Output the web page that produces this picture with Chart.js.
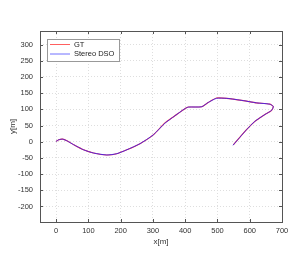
<!DOCTYPE html>
<html>
<head>
<meta charset="utf-8">
<script src="https://cdn.jsdelivr.net/npm/chart.js@4"></script>
<style>
  html, body { margin: 0; padding: 0; background: #fff; }
  #wrap { width: 305px; height: 273px; }
</style>
</head>
<body>
<div id="wrap"><canvas id="traj"></canvas></div>
<script>
// trajectory, metres
const gtX = [0, 8, 20, 35, 54, 85, 116, 157, 188, 219, 260, 301, 337, 368, 399, 410, 451, 471, 497, 528, 580, 621, 662, 673, 668, 647, 616, 590, 549];
const gtY = [1, 6, 8, 2, -9, -25, -35, -41, -37, -25, -6, 21, 58, 80, 102, 107, 108, 121, 135, 134, 127, 120, 116, 109, 97, 84, 63, 37, -10];
const dsoX = [0, 8, 20, 35, 54, 85, 116, 157, 188, 219, 260, 301, 337, 368, 399, 410, 451, 471, 497, 528, 580, 621, 662, 673, 668, 647, 616, 590, 548];
const dsoY = [1, 6, 8, 2, -9, -25, -35, -41, -37, -25, -6, 21, 57, 80, 102, 107, 108, 121, 134, 134, 127, 120, 116, 109, 97, 84, 63, 37, -11];

const xTicks = [0, 100, 200, 300, 400, 500, 600, 700];
const yTicks = [-200, -150, -100, -50, 0, 50, 100, 150, 200, 250, 300];

const toPoints = (xs, ys) => xs.map((x, i) => ({ x: x, y: ys[i] }));

const font = { family: 'Liberation Sans, Arial, sans-serif', size: 7.5 };

// box, inner ticks and legend the way the reference draws them
const framePlugin = {
    id: 'frame',
    afterDraw(chart) {
        const ctx = chart.ctx;
        const a = chart.chartArea;
        const xs = chart.scales.x, ys = chart.scales.y;
        ctx.save();
        ctx.strokeStyle = '#555';
        ctx.lineWidth = 1;
        ctx.strokeRect(Math.round(a.left) + 0.5, Math.round(a.top) + 0.5, Math.round(a.right - a.left), Math.round(a.bottom - a.top));
        ctx.beginPath();
        xTicks.forEach(v => {
            const p = Math.round(xs.getPixelForValue(v)) + 0.5;
            ctx.moveTo(p, a.bottom); ctx.lineTo(p, a.bottom - 3);
            ctx.moveTo(p, a.top); ctx.lineTo(p, a.top + 3);
        });
        yTicks.forEach(v => {
            const p = Math.round(ys.getPixelForValue(v)) + 0.5;
            ctx.moveTo(a.left, p); ctx.lineTo(a.left + 3, p);
            ctx.moveTo(a.right, p); ctx.lineTo(a.right - 3, p);
        });
        ctx.stroke();

        // legend
        const bx = 47.5, by = 39.5, bw = 72, bh = 22;
        ctx.fillStyle = '#fff';
        ctx.fillRect(bx, by, bw, bh);
        ctx.strokeStyle = '#999';
        ctx.strokeRect(bx, by, bw, bh);
        ctx.font = '7.5px Liberation Sans, Arial, sans-serif';
        ctx.textBaseline = 'middle';
        chart.data.datasets.forEach((ds, i) => {
            const yy = 44.5 + i * 9.5;
            ctx.strokeStyle = ds.legendColor;
            ctx.beginPath();
            ctx.moveTo(50, yy); ctx.lineTo(70, yy);
            ctx.stroke();
            ctx.fillStyle = '#222';
            ctx.fillText(ds.label, 74, yy);
        });
        ctx.restore();
    }
};

new Chart(document.getElementById('traj').getContext('2d'), {
    type: 'scatter',
    data: {
        datasets: [
            {
                label: 'GT',
                data: toPoints(gtX, gtY),
                showLine: true,
                borderColor: '#ff4040',
                legendColor: '#ff6060',
                borderWidth: 1.1,
                pointRadius: 0,
                tension: 0.2,
                order: 2
            },
            {
                label: 'Stereo DSO',
                data: toPoints(dsoX, dsoY),
                showLine: true,
                borderColor: 'rgba(55, 30, 240, 0.88)',
                legendColor: '#7070ff',
                borderWidth: 1,
                pointRadius: 0,
                tension: 0.2,
                order: 1
            }
        ]
    },
    options: {
        responsive: true,
        maintainAspectRatio: false,
        animation: false,
        layout: { padding: { top: 31, right: 23, left: 8, bottom: 26 } },
        plugins: {
            legend: { display: false },
            tooltip: { enabled: false }
        },
        scales: {
            x: {
                type: 'linear',
                min: -50,
                max: 700,
                afterBuildTicks: s => { s.ticks = xTicks.map(v => ({ value: v })); },
                afterFit: s => { s.height = 25; },
                border: { display: false, dash: [1, 2] },
                grid: { color: '#dedede', drawTicks: false },
                ticks: { color: '#333', font: font, padding: 4, maxRotation: 0 },
                title: { display: true, text: 'x[m]', color: '#333', font: { family: font.family, size: 8 }, padding: 0 }
            },
            y: {
                type: 'linear',
                min: -248,
                max: 342,
                afterBuildTicks: s => { s.ticks = yTicks.map(v => ({ value: v })); },
                afterFit: s => { s.width = 32; },
                border: { display: false, dash: [1, 2] },
                grid: { color: '#dedede', drawTicks: false },
                ticks: { color: '#333', font: font, padding: 7 },
                title: { display: true, text: 'y[m]', color: '#333', font: { family: font.family, size: 8 }, padding: 0 }
            }
        }
    },
    plugins: [framePlugin]
});
</script>
</body>
</html>
